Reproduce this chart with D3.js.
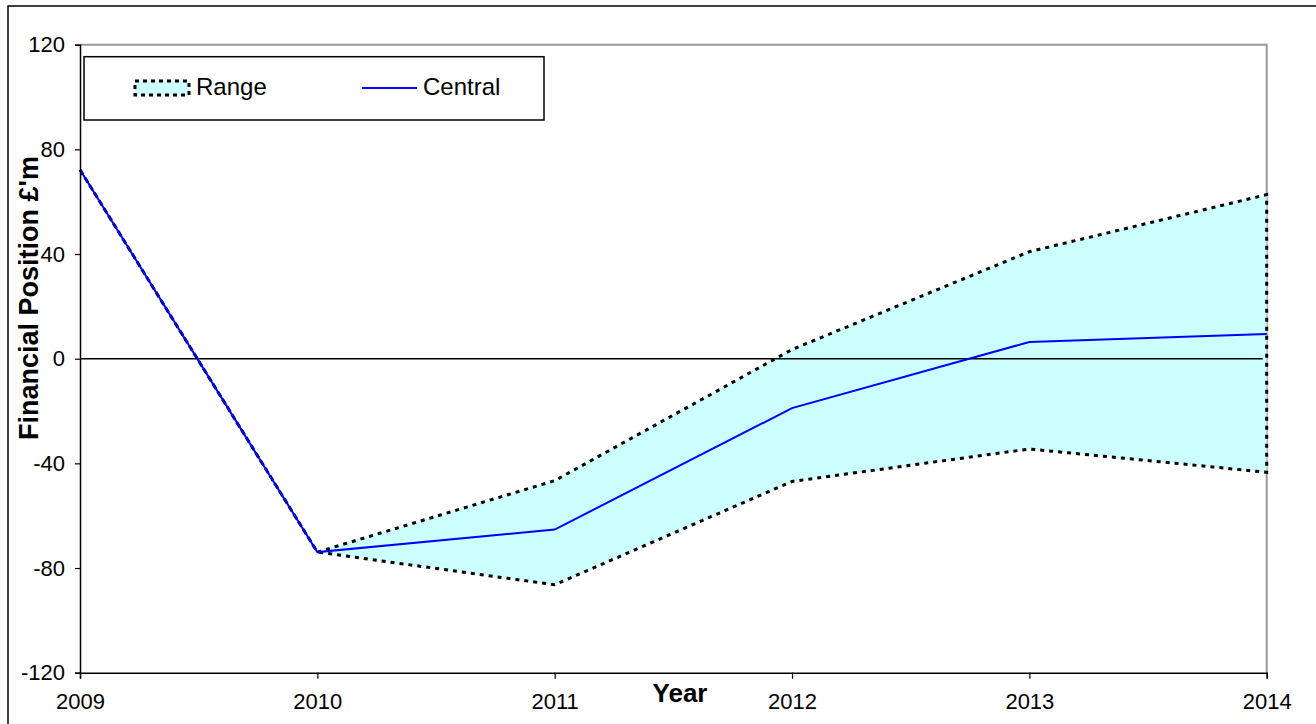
<!DOCTYPE html>
<html>
<head>
<meta charset="utf-8">
<script src="https://d3js.org/d3.v7.min.js"></script>
<style>
  body { margin: 0; background: #fff; }
  text { font-family: "Liberation Sans", Arial, sans-serif; }
</style>
</head>
<body>
<svg id="chart"></svg>
<script>
var w = 1316;
var h = 724;

// data
var years = [2009, 2010, 2011, 2012, 2013, 2014];
var central = [72.2, -73.9, -65.3, -18.9, 6.4, 9.4];
var rangeHigh = [72.2, -73.9, -46.6, 3.5, 40.9, 62.7];
var rangeLow = [72.2, -73.9, -86.4, -46.9, -34.5, -43.4];
var yTicks = [-120, -80, -40, 0, 40, 80, 120];

var plotLeft = 80, plotRight = 1266.7, plotTop = 44.7, plotBottom = 672.7;

var svg = d3.select('#chart')
  .attr('width', w)
  .attr('height', h);

// outer chart border
svg.append('rect')
  .attr('x', 8).attr('y', 6)
  .attr('width', w + 20).attr('height', h + 20)
  .attr('fill', 'none')
  .attr('stroke', '#000')
  .attr('stroke-width', 1.5);

var x = d3.scaleLinear()
  .domain([2009, 2014])
  .range([plotLeft, plotRight]);

var y = d3.scaleLinear()
  .domain([-120, 120])
  .range([plotBottom, plotTop]);

// plot area top/right border
svg.append('path')
  .attr('d', 'M' + plotLeft + ',' + plotTop + 'H' + plotRight + 'V' + plotBottom)
  .attr('fill', 'none')
  .attr('stroke', '#999')
  .attr('stroke-width', 2);

var rows = years.map(function (d, i) {
  return { year: d, c: central[i], hi: rangeHigh[i], lo: rangeLow[i] };
});

var area = d3.area()
  .x(function (d) { return x(d.year) })
  .y0(function (d) { return y(d.lo) })
  .y1(function (d) { return y(d.hi) });

svg.append('path')
  .datum(rows)
  .attr('d', area)
  .attr('fill', '#ccffff')
  .attr('stroke', '#000')
  .attr('stroke-width', 3)
  .attr('stroke-dasharray', '4,5');

// zero line
svg.append('line')
  .attr('x1', plotLeft).attr('x2', plotRight - 4)
  .attr('y1', y(0)).attr('y2', y(0))
  .attr('stroke', '#000')
  .attr('stroke-width', 1.5);

var line = d3.line()
  .x(function (d) { return x(d.year) })
  .y(function (d) { return y(d.c) });

svg.append('path')
  .datum(rows)
  .attr('d', line)
  .attr('fill', 'none')
  .attr('stroke', '#0000ff')
  .attr('stroke-width', 2);

// axes
var yAxis = svg.append('g')
  .attr('transform', 'translate(' + plotLeft + ',0)')
  .call(d3.axisLeft(y).tickValues(yTicks).tickSize(5).tickPadding(10).tickFormat(function (d) { return String(d) }));

var xAxis = svg.append('g')
  .attr('transform', 'translate(0,' + plotBottom + ')')
  .call(d3.axisBottom(x).tickValues(years).tickSize(6).tickPadding(15).tickFormat(function (d) { return String(d) }));

[yAxis, xAxis].forEach(function (a) {
  a.selectAll('.domain').attr('stroke', '#000').attr('stroke-width', 1.5);
  a.selectAll('.tick line').attr('stroke', '#000').attr('stroke-width', 1.2);
  a.selectAll('.tick text')
    .attr('fill', '#000')
    .style('font-family', '"Liberation Sans", Arial, sans-serif')
    .style('font-size', '22px');
});

// axis titles
svg.append('text')
  .attr('x', 680).attr('y', 702)
  .attr('text-anchor', 'middle')
  .style('font-size', '26px')
  .style('font-weight', 'bold')
  .text('Year');

svg.append('text')
  .attr('transform', 'translate(38,298) rotate(-90)')
  .attr('text-anchor', 'middle')
  .style('font-size', '27px')
  .style('font-weight', 'bold')
  .text("Financial Position £'m");

// legend
var legend = svg.append('g');

legend.append('rect')
  .attr('x', 84).attr('y', 56.7)
  .attr('width', 460).attr('height', 63.3)
  .attr('fill', '#fff')
  .attr('stroke', '#000')
  .attr('stroke-width', 1.5);

legend.append('rect')
  .attr('x', 135).attr('y', 81)
  .attr('width', 54).attr('height', 14)
  .attr('fill', '#ccffff')
  .attr('stroke', '#000')
  .attr('stroke-width', 3)
  .attr('stroke-dasharray', '4,4');

legend.append('text')
  .attr('x', 196).attr('y', 95)
  .style('font-size', '24px')
  .text('Range');

legend.append('line')
  .attr('x1', 362).attr('x2', 417)
  .attr('y1', 88).attr('y2', 88)
  .attr('stroke', '#0000ff')
  .attr('stroke-width', 2);

legend.append('text')
  .attr('x', 423).attr('y', 95)
  .style('font-size', '24px')
  .text('Central');
</script>
</body>
</html>
